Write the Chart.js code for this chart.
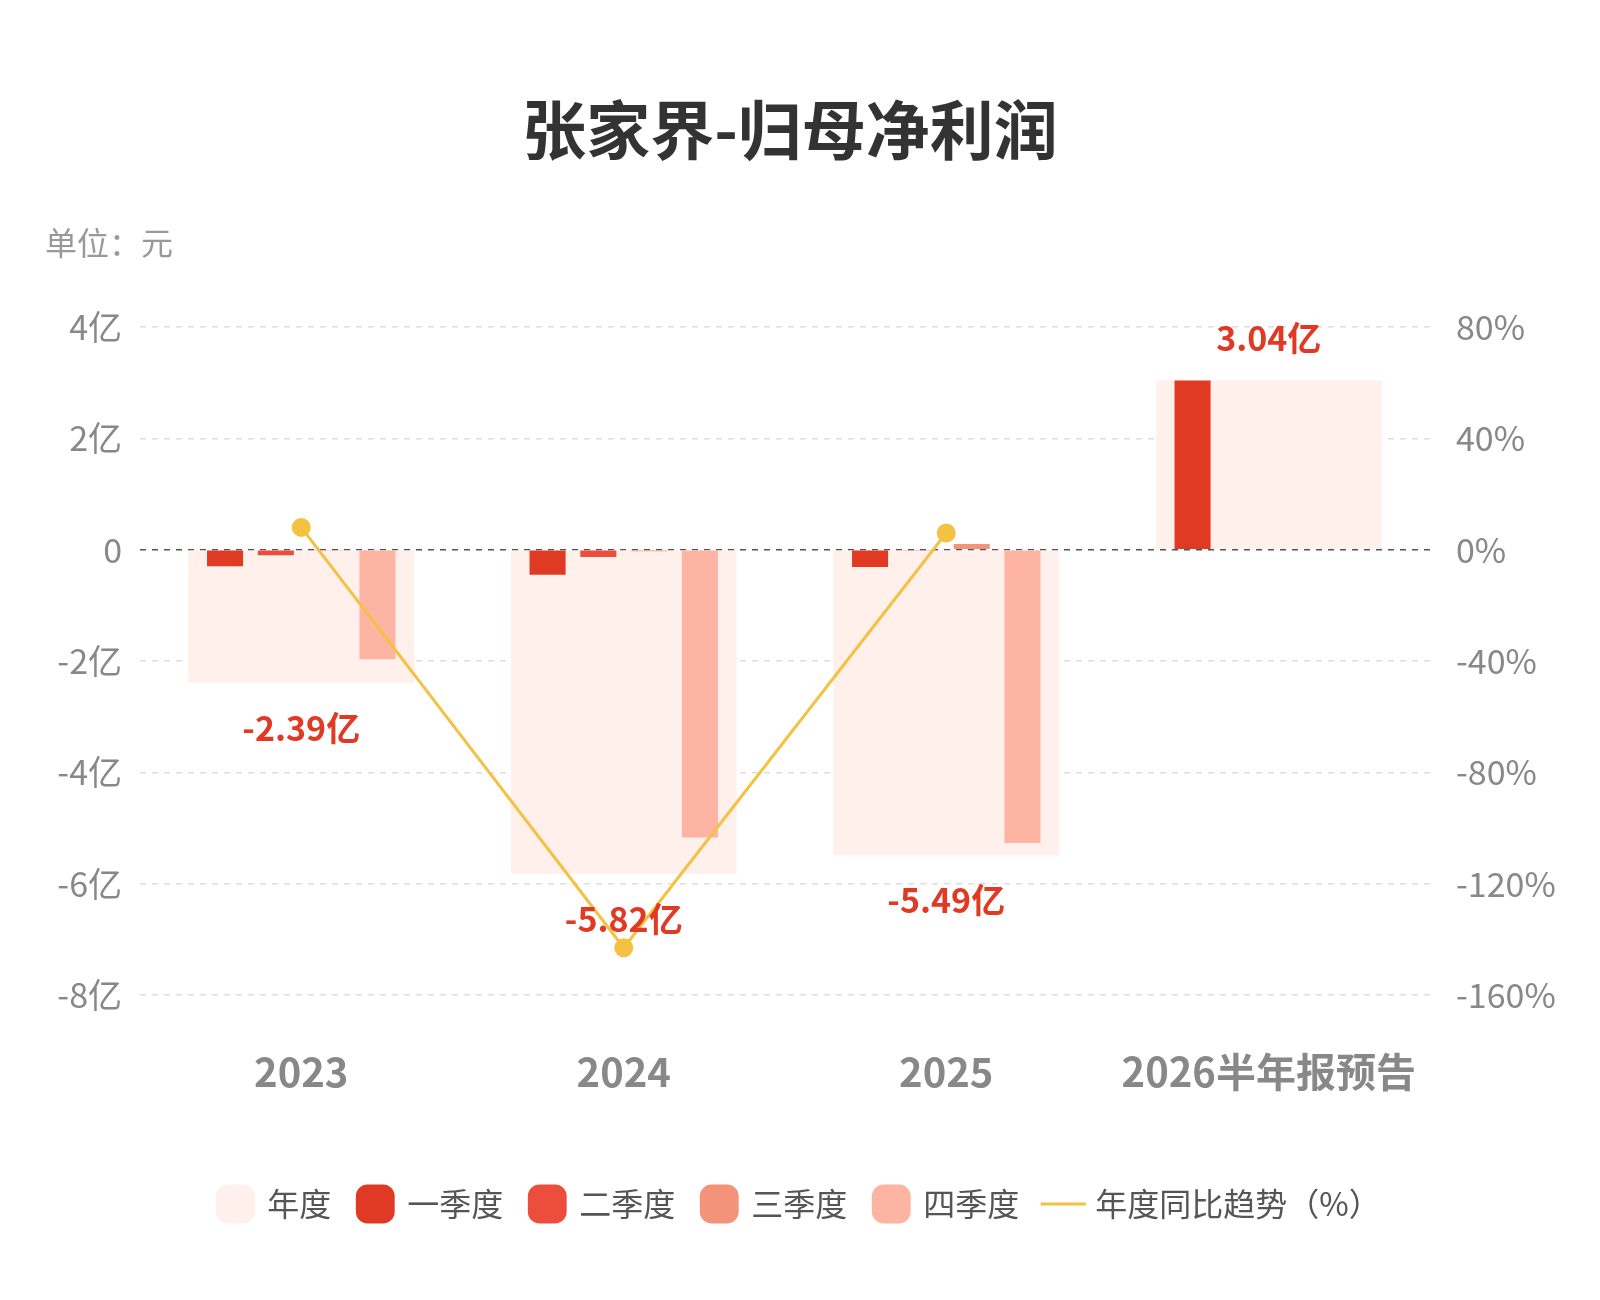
<!DOCTYPE html>
<html><head><meta charset="utf-8">
<script src="https://cdn.jsdelivr.net/npm/chart.js@4"></script>
<style>body{margin:0;background:#fff}#wrap{width:1600px;height:1300px}</style>
</head><body><div id="wrap"><canvas id="c"></canvas></div>
<script>
const years = ['2023', '2024', '2025', '2026半年报预告'];
const annual = [-2.39, -5.82, -5.49, 3.04];
const q1 = [-0.30, -0.45, -0.31, 3.04];
const q2 = [-0.10, -0.13, -0.02, 0.01];
const q3 = [-0.01, -0.03, 0.10, null];
const q4 = [-1.97, -5.17, -5.27, null];
const yoy = [8, -143, 6, null];

const F = '"Noto Sans CJK SC", "Noto Sans", sans-serif';

const extras = {
    id: 'extras',
    afterDraw(chart) {
        const ctx = chart.ctx, y = chart.scales.y, x = chart.scales.x;
        ctx.save();
        ctx.fillStyle = '#333';
        ctx.font = 'bold 64px ' + F;
        ctx.textAlign = 'center';
        ctx.textBaseline = 'middle';
        ctx.fillText('张家界-归母净利润', 790, 130);
        ctx.fillStyle = '#999';
        ctx.font = '32px ' + F;
        ctx.textAlign = 'left';
        ctx.fillText('单位：元', 45, 243);
        // annual value labels
        ctx.fillStyle = '#e03a25';
        ctx.font = 'bold 34px ' + F;
        ctx.textAlign = 'center';
        annual.forEach((v, i) => {
            const px = x.getPixelForValue(i);
            const py = y.getPixelForValue(v);
            ctx.fillText(v.toFixed(2) + '亿', px, v < 0 ? py + 45 : py - 42);
        });
        ctx.restore();
    }
};

new Chart(document.getElementById('c'), {
    data: {
        labels: years,
        datasets: [
            { type: 'line', label: '年度同比趋势（%）', data: yoy, yAxisID: 'y2',
              borderColor: '#f4c242', backgroundColor: '#f4c242', borderWidth: 3,
              pointRadius: 8, pointStyle: 'circle', order: 0 },
            { type: 'bar', label: '年度', data: annual, backgroundColor: '#fff0eb',
              grouped: false, barPercentage: 0.7, categoryPercentage: 1, order: 10 },
            { type: 'bar', label: '一季度', data: q1, backgroundColor: '#e03a25', order: 5 },
            { type: 'bar', label: '二季度', data: q2, backgroundColor: '#ec4d3d', order: 5 },
            { type: 'bar', label: '三季度', data: q3, backgroundColor: '#f2937a', order: 5 },
            { type: 'bar', label: '四季度', data: q4, backgroundColor: '#fdb4a3', order: 5 }
        ]
    },
    options: {
        responsive: true, maintainAspectRatio: false, animation: false,
        layout: { padding: { top: 327, left: 40, right: 40, bottom: 70 } },
        datasets: { bar: { barPercentage: 0.71, categoryPercentage: 0.63 } },
        plugins: {
            legend: {
                position: 'bottom',
                labels: {
                    usePointStyle: true, padding: 28,
                    color: '#555', font: { size: 32, family: F },
                    generateLabels(chart) {
                        const order = [1, 2, 3, 4, 5, 0];
                        return order.map(i => {
                            const d = chart.data.datasets[i];
                            return { text: d.label, fillStyle: d.backgroundColor,
                                strokeStyle: d.type === 'line' ? d.borderColor : d.backgroundColor,
                                lineWidth: d.type === 'line' ? 3 : 0,
                                pointStyle: d.type === 'line' ? 'line' : 'rectRounded',
                                datasetIndex: i, hidden: false, fontColor: '#555' };
                        });
                    }
                }
            },
            tooltip: { enabled: false }
        },
        scales: {
            x: {
                grid: { display: false }, border: { display: false },
                ticks: { color: '#888', font: { size: 40, weight: 'bold', family: F }, padding: 45 },
                afterFit: s => { s.height += 19; }
            },
            y: {
                min: -8, max: 4,
                ticks: { stepSize: 2, color: '#888', font: { size: 34, family: F }, padding: 18,
                    callback: v => v === 0 ? '0' : v + '亿' },
                border: { display: false, dash: [6, 6] },
                grid: { color: c => c.tick.value === 0 ? '#555' : '#ddd', lineWidth: 1.5,
                        tickLength: 0 },
                afterFit: s => { s.width = 100; }
            },
            y2: {
                position: 'right', min: -160, max: 80,
                ticks: { stepSize: 40, color: '#888', font: { size: 34, family: F }, padding: 18,
                    callback: v => v + '%' },
                border: { display: false },
                grid: { display: false },
                afterFit: s => { s.width = 130; }
            }
        }
    },
    plugins: [extras]
});
</script>
</body></html>
